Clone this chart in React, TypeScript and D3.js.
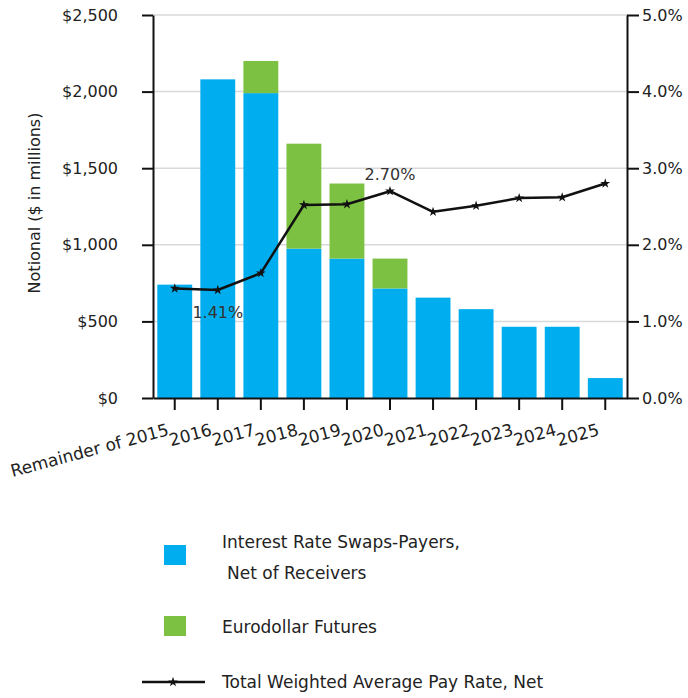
import { useEffect, useRef } from "react";
import * as d3 from "d3";

const categories = [
  "Remainder of 2015",
  "2016",
  "2017",
  "2018",
  "2019",
  "2020",
  "2021",
  "2022",
  "2023",
  "2024",
  "2025",
];
const swaps = [740, 2080, 1990, 975, 910, 715, 655, 580, 465, 465, 130];
const futures = [0, 0, 210, 685, 490, 195, 0, 0, 0, 0, 0];
const payRate = [1.43, 1.41, 1.63, 2.52, 2.53, 2.7, 2.43, 2.51, 2.61, 2.62, 2.8];
const leftTicks = [0, 500, 1000, 1500, 2000, 2500];
const rightTicks = [0, 1, 2, 3, 4, 5];
const callouts = [
  { index: 1, text: "1.41%", dy: 22 },
  { index: 5, text: "2.70%", dy: -17 },
];

const BLUE = "#00aeef";
const GREEN = "#7cc142";
const FONT = "'DejaVu Sans', Verdana, sans-serif";

export default function App() {
  const svgRef = useRef<SVGSVGElement>(null);
  const width = 688;
  const height = 698;

  useEffect(() => {
    if (!svgRef.current) return;
    const svg = d3.select(svgRef.current);
    svg.selectAll("*").remove();

    const left = 153;
    const right = 627;
    const top = 15;
    const bottom = 398;

    const x = d3
      .scaleBand<string>()
      .domain(categories)
      .range([left, right])
      .paddingInner(0.19)
      .paddingOuter(0.1);
    const y = d3.scaleLinear().domain([0, 2500]).range([bottom, top]);
    const y2 = d3.scaleLinear().domain([0, 5]).range([bottom, top]);

    // Gridlines
    svg
      .append("g")
      .selectAll("line")
      .data(leftTicks.filter((t) => t > 0))
      .join("line")
      .attr("x1", left)
      .attr("x2", right)
      .attr("y1", (d) => y(d))
      .attr("y2", (d) => y(d))
      .attr("stroke", "#d9d9d9")
      .attr("stroke-width", 1.5);

    // Bars
    const rows = categories.map((c, i) => ({ c, s: swaps[i], f: futures[i], r: payRate[i] }));
    svg
      .append("g")
      .selectAll("rect")
      .data(rows)
      .join("rect")
      .attr("x", (d) => x(d.c)!)
      .attr("width", x.bandwidth())
      .attr("y", (d) => y(d.s))
      .attr("height", (d) => y(0) - y(d.s))
      .attr("fill", BLUE);
    svg
      .append("g")
      .selectAll("rect")
      .data(rows.filter((d) => d.f > 0))
      .join("rect")
      .attr("x", (d) => x(d.c)!)
      .attr("width", x.bandwidth())
      .attr("y", (d) => y(d.s + d.f))
      .attr("height", (d) => y(d.s) - y(d.s + d.f))
      .attr("fill", GREEN);

    // Axes
    const styleAxis = (g: d3.Selection<SVGGElement, unknown, null, undefined>) => {
      g.select(".domain").attr("stroke", "#111").attr("stroke-width", 2);
      g.selectAll(".tick line").attr("stroke", "#111").attr("stroke-width", 2);
      g.selectAll("text")
        .attr("fill", "#222")
        .style("font-family", FONT)
        .style("font-size", "16px");
    };

    const gl = svg
      .append("g")
      .attr("transform", `translate(${left},0)`)
      .call(
        d3
          .axisLeft(y)
          .tickValues(leftTicks)
          .tickSize(11)
          .tickPadding(24)
          .tickSizeOuter(0)
          .tickFormat((d) => "$" + d3.format(",")(d as number))
      );
    styleAxis(gl);

    const gr = svg
      .append("g")
      .attr("transform", `translate(${right},0)`)
      .call(
        d3
          .axisRight(y2)
          .tickValues(rightTicks)
          .tickSize(12)
          .tickPadding(3)
          .tickSizeOuter(0)
          .tickFormat((d) => (d as number).toFixed(1) + "%")
      );
    styleAxis(gr);

    const gb = svg
      .append("g")
      .attr("transform", `translate(0,${bottom})`)
      .call(d3.axisBottom(x).tickSize(12).tickSizeOuter(0));
    gb.select(".domain").attr("stroke", "#111").attr("stroke-width", 2);
    gb.selectAll(".tick line").attr("stroke", "#111").attr("stroke-width", 2);
    gb.selectAll(".tick text")
      .attr("fill", "#222")
      .attr("y", 0)
      .attr("dy", 0)
      .attr("transform", "translate(-5,37) rotate(-15)")
      .attr("text-anchor", "end")
      .style("font-family", FONT)
      .style("font-size", "17px");

    // Y axis title
    svg
      .append("text")
      .attr("transform", `translate(40,203) rotate(-90)`)
      .attr("text-anchor", "middle")
      .style("font-family", FONT)
      .style("font-size", "16px")
      .attr("fill", "#222")
      .text("Notional ($ in millions)");

    // Line
    const cx = (c: string) => x(c)! + x.bandwidth() / 2;
    const line = d3
      .line<(typeof rows)[number]>()
      .x((d) => cx(d.c))
      .y((d) => y2(d.r));
    svg
      .append("path")
      .datum(rows)
      .attr("d", line)
      .attr("fill", "none")
      .attr("stroke", "#111")
      .attr("stroke-width", 2.5)
      .attr("stroke-linejoin", "round");
    svg
      .append("g")
      .selectAll("path")
      .data(rows)
      .join("path")
      .attr("d", d3.symbol(d3.symbolStar, 30)())
      .attr("transform", (d) => `translate(${cx(d.c)},${y2(d.r)})`)
      .attr("fill", "#111");

    // Callouts
    svg
      .append("g")
      .selectAll("text")
      .data(callouts)
      .join("text")
      .attr("x", (d) => cx(categories[d.index]))
      .attr("y", (d) => y2(payRate[d.index]) + d.dy)
      .attr("dy", "0.35em")
      .attr("text-anchor", "middle")
      .style("font-family", FONT)
      .style("font-size", "16px")
      .attr("fill", "#333")
      .text((d) => d.text);

    // Legend
    const lg = svg.append("g").style("font-family", FONT).style("font-size", "17px").attr("fill", "#222");
    lg.append("rect").attr("x", 164).attr("y", 545).attr("width", 22).attr("height", 20).attr("fill", BLUE);
    lg.append("text").attr("x", 222).attr("y", 542).attr("dy", "0.35em").text("Interest Rate Swaps-Payers,");
    lg.append("text").attr("x", 227).attr("y", 573).attr("dy", "0.35em").text("Net of Receivers");
    lg.append("rect").attr("x", 164).attr("y", 616).attr("width", 22).attr("height", 20).attr("fill", GREEN);
    lg.append("text").attr("x", 222).attr("y", 627).attr("dy", "0.35em").text("Eurodollar Futures");
    lg.append("line")
      .attr("x1", 142)
      .attr("x2", 205)
      .attr("y1", 682)
      .attr("y2", 682)
      .attr("stroke", "#111")
      .attr("stroke-width", 2.5);
    lg.append("path")
      .attr("d", d3.symbol(d3.symbolStar, 30)())
      .attr("transform", "translate(173,682)")
      .attr("fill", "#111");
    lg.append("text").attr("x", 222).attr("y", 682).attr("dy", "0.35em").text("Total Weighted Average Pay Rate, Net");
  }, []);

  return (
    <svg
      ref={svgRef}
      width={width}
      height={height}
      style={{ position: "absolute", left: 0, top: 0, background: "#fff" }}
    />
  );
}
